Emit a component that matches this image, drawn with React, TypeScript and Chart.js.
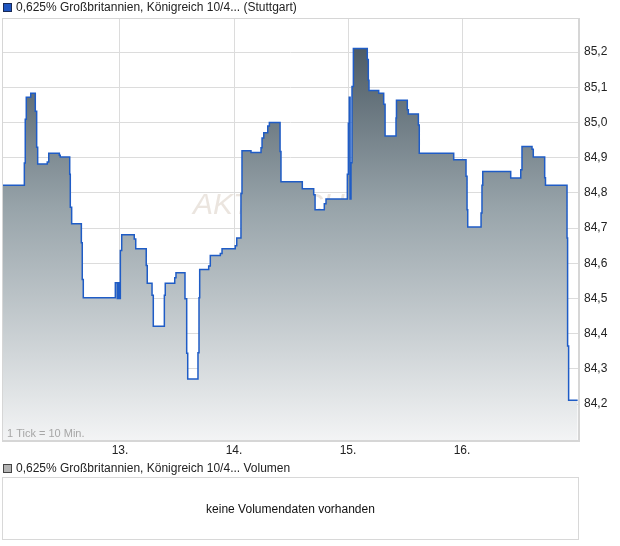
import React, { useEffect, useRef } from "react";
import { Chart, registerables } from "chart.js";

Chart.register(...registerables);

// time in days (day of month, fractional), price values
const times = [
  11.965, 12.161, 12.169, 12.178, 12.217, 12.257, 12.269, 12.278, 12.362, 12.375,
  12.468, 12.476, 12.559, 12.564, 12.576, 12.661, 12.669, 12.678, 12.959, 12.976,
  12.984, 12.994, 13.003, 13.015, 13.125, 13.138, 13.23, 13.239, 13.281, 13.292,
  13.389, 13.397, 13.48, 13.491, 13.57, 13.585, 13.594, 13.684, 13.693, 13.699,
  13.778, 13.792, 13.88, 13.895, 14.011, 14.024, 14.061, 14.07, 14.149, 14.237,
  14.246, 14.261, 14.296, 14.31, 14.404, 14.412, 14.599, 14.699, 14.711, 14.792,
  14.807, 14.994, 15.003, 15.011, 15.018, 15.026, 15.035, 15.047, 15.169, 15.178,
  15.184, 15.269, 15.313, 15.325, 15.421, 15.425, 15.52, 15.529, 15.617, 15.625,
  15.927, 16.035, 16.044, 16.05, 16.167, 16.175, 16.182, 16.427, 16.515, 16.526,
  16.614, 16.625, 16.725, 16.732, 16.921, 16.926, 16.935, 17.014,
];
const prices = [
  84.822, 84.885, 85.009, 85.072, 85.083, 85.032, 84.93, 84.882, 84.888, 84.913,
  84.907, 84.902, 84.853, 84.759, 84.712, 84.658, 84.554, 84.502, 84.545, 84.5,
  84.545, 84.5, 84.636, 84.681, 84.669, 84.641, 84.594, 84.543, 84.509, 84.421,
  84.509, 84.543, 84.559, 84.573, 84.499, 84.344, 84.271, 84.346, 84.502, 84.582,
  84.592, 84.622, 84.628, 84.641, 84.65, 84.672, 84.798, 84.92, 84.915, 84.928,
  84.956, 84.971, 84.99, 85.0, 84.918, 84.832, 84.812, 84.795, 84.752, 84.769,
  84.783, 84.853, 84.998, 85.072, 84.783, 84.886, 85.102, 85.21, 85.179, 85.12,
  85.091, 85.083, 85.052, 84.962, 85.013, 85.063, 85.036, 85.024, 84.993, 84.913,
  84.894, 84.847, 84.752, 84.703, 84.743, 84.822, 84.861, 84.842, 84.866, 84.932,
  84.924, 84.902, 84.843, 84.822, 84.672, 84.365, 84.211, 84.211,
];
const yTicks = [84.2, 84.3, 84.4, 84.5, 84.6, 84.7, 84.8, 84.9, 85.0, 85.1, 85.2];
const xTicks = [13, 14, 15, 16];
const xMin = 11.965;
const xMax = 17.026;
const yMin = 84.095;
const yMax = 85.297;

const seriesName = "0,625% Großbritannien, Königreich 10/4... (Stuttgart)";
const volumeName = "0,625% Großbritannien, Königreich 10/4... Volumen";
const noVolume = "keine Volumendaten vorhanden";
const tickNote = "1 Tick = 10 Min.";
const watermark = "AKTIENCHECK";

const FONT = '"Liberation Sans", Arial, sans-serif';

const decorPlugin = {
  id: "decor",
  beforeDatasetsDraw(chart: any) {
    const { ctx, chartArea } = chart;
    ctx.save();
    ctx.font = `italic 30px ${FONT}`;
    ctx.fillStyle = "rgba(228,220,212,0.75)";
    ctx.textBaseline = "middle";
    ctx.textAlign = "left";
    ctx.fillText(watermark, chartArea.left + 191, 206);
    ctx.restore();
  },
  afterDatasetsDraw(chart: any) {
    const { ctx, chartArea } = chart;
    ctx.save();
    ctx.strokeStyle = "#d6d6d6";
    ctx.lineWidth = 1;
    ctx.strokeRect(
      chartArea.left + 0.5,
      chartArea.top + 0.5,
      chartArea.right - chartArea.left - 1,
      chartArea.bottom - chartArea.top - 1
    );
    ctx.font = `11px ${FONT}`;
    ctx.fillStyle = "#a6a6a6";
    ctx.textBaseline = "middle";
    ctx.textAlign = "left";
    ctx.fillText(tickNote, chartArea.left + 5, chartArea.bottom - 7);
    ctx.restore();
  },
};

export default function App() {
  const ref = useRef<HTMLCanvasElement>(null);
  useEffect(() => {
    document.body.style.margin = "0";
    const canvas = ref.current;
    if (!canvas) return;
    const chart = new Chart(canvas, {
      type: "line",
      data: {
        datasets: [
          {
            data: times.map((t, i) => ({ x: t, y: prices[i] })),
            borderColor: "#1f5cc6",
            borderWidth: 1.5,
            stepped: "before",
            pointRadius: 0,
            fill: "start",
            backgroundColor: (c: any) => {
              const area = c.chart.chartArea;
              if (!area) return "#8a969d";
              const g = c.chart.ctx.createLinearGradient(0, area.top, 0, area.bottom);
              g.addColorStop(0, "#3f4e59");
              g.addColorStop(0.45, "#98a4aa");
              g.addColorStop(1, "#f3f4f5");
              return g;
            },
          },
        ],
      },
      options: {
        animation: false,
        responsive: false,
        layout: { padding: { left: 2, top: 18, right: 0, bottom: 0 } },
        plugins: { legend: { display: false }, tooltip: { enabled: false } },
        scales: {
          x: {
            type: "linear",
            min: xMin,
            max: xMax,
            afterFit: (s: any) => {
              s.height = 21;
            },
            afterBuildTicks: (s: any) => {
              s.ticks = xTicks.map((v) => ({ value: v }));
            },
            grid: { color: "#dcdcdc", drawTicks: false },
            border: { display: true, color: "#d6d6d6" },
            ticks: {
              padding: 2,
              color: "#222",
              font: { family: FONT, size: 12 },
              maxRotation: 0,
              callback: (v: any) => `${v}.`,
            },
          },
          y: {
            type: "linear",
            position: "right",
            min: yMin,
            max: yMax,
            afterFit: (s: any) => {
              s.width = 41;
            },
            afterBuildTicks: (s: any) => {
              s.ticks = yTicks.map((v) => ({ value: v }));
            },
            grid: { color: "#dcdcdc", drawTicks: false },
            border: { display: true, color: "#d6d6d6" },
            ticks: {
              padding: 5,
              color: "#222",
              font: { family: FONT, size: 12 },
              callback: (v: any) => Number(v).toFixed(1).replace(".", ","),
            },
          },
        },
      },
      plugins: [decorPlugin],
    } as any);
    return () => chart.destroy();
  }, []);

  return (
    <div
      style={{
        position: "absolute",
        left: 0,
        top: 0,
        width: 620,
        height: 546,
        background: "#fff",
        fontFamily: FONT,
        fontSize: 12,
        color: "#222",
      }}
    >
      <canvas
        ref={ref}
        width={620}
        height={462}
        style={{ position: "absolute", left: 0, top: 0, width: 620, height: 462 }}
      />
      <div style={{ position: "absolute", left: 3, top: 1, display: "flex", alignItems: "center", whiteSpace: "nowrap" }}>
        <span
          style={{
            display: "inline-block",
            width: 7,
            height: 7,
            background: "#1f55c0",
            border: "1px solid #1a2a55",
            marginRight: 4,
          }}
        />
        <span style={{ lineHeight: "12px" }}>{seriesName}</span>
      </div>
      <div style={{ position: "absolute", left: 3, top: 462, display: "flex", alignItems: "center", whiteSpace: "nowrap" }}>
        <span
          style={{
            display: "inline-block",
            width: 7,
            height: 7,
            background: "#b4b4b4",
            border: "1px solid #444",
            marginRight: 4,
          }}
        />
        <span style={{ lineHeight: "12px" }}>{volumeName}</span>
      </div>
      <div
        style={{
          position: "absolute",
          left: 2,
          top: 477,
          width: 575,
          height: 61,
          border: "1px solid #d8d8d8",
          display: "flex",
          alignItems: "center",
          justifyContent: "center",
          color: "#111",
        }}
      >
        {noVolume}
      </div>
    </div>
  );
}
